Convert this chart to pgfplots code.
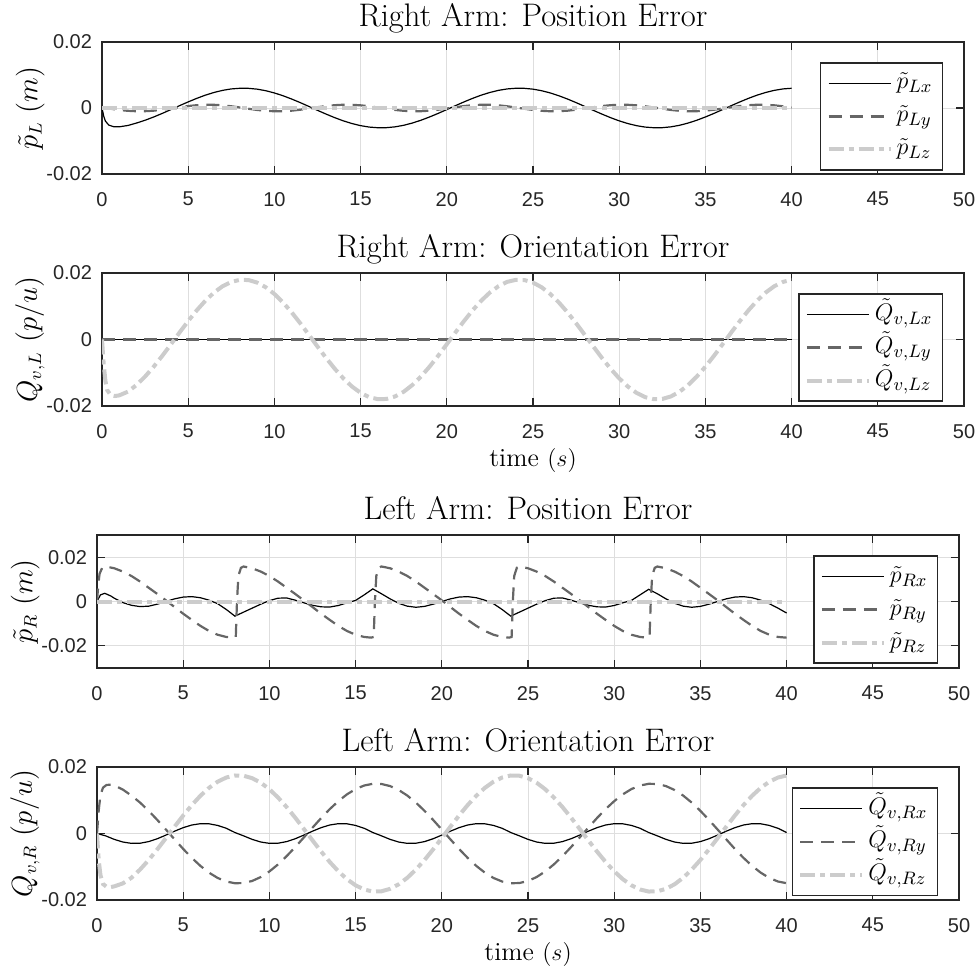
\documentclass[border=0pt]{standalone}
\usepackage{fontspec}
\usepackage{pgfplots}
\pgfplotsset{compat=1.18}
\newfontfamily\tickfam{Liberation Sans}
\newcommand\tickfont{\tickfam\fontsize{10}{12}\selectfont}
\newcommand\titlefont{\fontsize{16.3}{19}\selectfont}
\newcommand\ylabelfont{\fontsize{13.5}{16}\selectfont}
\newcommand\xlabelfont{\fontsize{13}{15}\selectfont}
\newcommand\legfont{\fontsize{13}{15}\selectfont}
\definecolor{axc}{RGB}{38,38,38}
\definecolor{gridc}{RGB}{222,222,222}
\definecolor{dgray}{RGB}{102,102,102}
\definecolor{lgray}{RGB}{204,204,204}
\tikzset{
 ls1/.style={color=black, line width=0.6pt, solid},
 ls2/.style={color=dgray, line width=1.1pt, dash pattern=on 6.5pt off 4pt},
 ls3/.style={color=lgray, line width=2pt, dash pattern=on 7.5pt off 2.5pt on 2.5pt off 2.5pt},
}
\pgfplotsset{myax/.style={
 scale only axis, width=431pt, height=66.5pt,
 xmin=0, xmax=50, xtick={0,5,...,50},
 ytick={-0.02,0,0.02}, yticklabels={-0.02,0,0.02}, scaled y ticks=false,
 grid=major, major grid style={color=gridc, line width=0.5pt},
 axis line style={color=axc, line width=0.6pt},
 tick style={color=axc, line width=0.6pt},
 tick align=inside, major tick length=4pt,
 ticklabel style={font=\tickfont, color=axc},
 /pgf/number format/assume math mode=true,
 xticklabel style={yshift=-5.5pt},
 yticklabel style={xshift=-1.5pt},
 every axis title shift=0pt,
 title style={font=\titlefont, at={(0.5,1)}, anchor=base, yshift=8pt},
 ylabel style={font=\ylabelfont},
 ylabel shift=-6pt,
 xlabel style={font=\xlabelfont, at={(axis description cs:0.5,0)}, anchor=base, yshift=-30.3pt},
 legend style={at={(0.9756,0.846)}, anchor=north east, draw=axc, line width=0.6pt,
   font=\legfont, fill=white, inner xsep=3pt, inner ysep=2pt, row sep=0pt,
   nodes={inner ysep=1pt, text height=10pt, text depth=4.5pt}},
 legend cell align=left,
 legend image code/.code={\draw[#1] (0pt,0pt) -- (31pt,0pt);},
}}
\begin{document}
\begin{tikzpicture}
\useasboundingbox (0pt,0pt) rectangle (489pt,-484.5pt);
% ---------------- Axis 1
\begin{axis}[myax, at={(51pt,-21pt)}, anchor=north west, height=66pt,
 ymin=-0.02, ymax=0.02, title={Right Arm: Position Error}, ylabel={$\tilde{p}_L\ (m)$}]
\addplot[ls1] coordinates {(0,0) (0.1,-0.0025) (0.2,-0.0040) (0.4,-0.0052) (0.7,-0.0057) (1,-0.0057) (1.5,-0.0053)
(2,-0.00456) (2.5,-0.00371) (3,-0.00272) (3.5,-0.00163) (4,-0.00047) (4.5,0.00071) (5,0.00185) (5.5,0.00293) (6,0.00390) (6.5,0.00471) (7,0.00535) (7.5,0.00578) (8,0.00598) (8.5,0.00596) (9,0.00571) (9.5,0.00524) (10,0.00456) (10.5,0.00371) (11,0.00272) (11.5,0.00163) (12,0.00047) (12.5,-0.00071) (13,-0.00185) (13.5,-0.00293) (14,-0.00390) (14.5,-0.00471) (15,-0.00535) (15.5,-0.00578) (16,-0.00598) (16.5,-0.00596) (17,-0.00571) (17.5,-0.00524) (18,-0.00456) (18.5,-0.00371) (19,-0.00272) (19.5,-0.00163) (20,-0.00047) (20.5,0.00071) (21,0.00185) (21.5,0.00293) (22,0.00390) (22.5,0.00471) (23,0.00535) (23.5,0.00578) (24,0.00598) (24.5,0.00596) (25,0.00571) (25.5,0.00524) (26,0.00456) (26.5,0.00371) (27,0.00272) (27.5,0.00163) (28,0.00047) (28.5,-0.00071) (29,-0.00185) (29.5,-0.00293) (30,-0.00390) (30.5,-0.00471) (31,-0.00535) (31.5,-0.00578) (32,-0.00598) (32.5,-0.00596) (33,-0.00571) (33.5,-0.00524) (34,-0.00456) (34.5,-0.00371) (35,-0.00272) (35.5,-0.00163) (36,-0.00047) (36.5,0.00071) (37,0.00185) (37.5,0.00293) (38,0.00390) (38.5,0.00471) (39,0.00535) (39.5,0.00578) (40,0.00598)};
\addlegendentry{$\tilde{p}_{Lx}$}
\addplot[ls2] coordinates {(0,0) (0.5,-0.00023) (1,-0.00059) (1.5,-0.00085) (2,-0.00099) (2.5,-0.00097) (3,-0.00081) (3.5,-0.00052) (4,-0.00016) (4.5,0.00023) (5,0.00059) (5.5,0.00085) (6,0.00099) (6.5,0.00097) (7,0.00081) (7.5,0.00052)
(8,0.00016) (8.5,-0.00023) (9,-0.00059) (9.5,-0.00085) (10,-0.00099) (10.5,-0.00097) (11,-0.00081) (11.5,-0.00052) (12,-0.00016) (12.5,0.00023) (13,0.00059) (13.5,0.00085) (14,0.00099) (14.5,0.00097) (15,0.00081) (15.5,0.00052)
(16,0.00016) (16.5,-0.00023) (17,-0.00059) (17.5,-0.00085) (18,-0.00099) (18.5,-0.00097) (19,-0.00081) (19.5,-0.00052) (20,-0.00016) (20.5,0.00023) (21,0.00059) (21.5,0.00085) (22,0.00099) (22.5,0.00097) (23,0.00081) (23.5,0.00052)
(24,0.00016) (24.5,-0.00023) (25,-0.00059) (25.5,-0.00085) (26,-0.00099) (26.5,-0.00097) (27,-0.00081) (27.5,-0.00052) (28,-0.00016) (28.5,0.00023) (29,0.00059) (29.5,0.00085) (30,0.00099) (30.5,0.00097) (31,0.00081) (31.5,0.00052)
(32,0.00016) (32.5,-0.00023) (33,-0.00059) (33.5,-0.00085) (34,-0.00099) (34.5,-0.00097) (35,-0.00081) (35.5,-0.00052) (36,-0.00016) (36.5,0.00023) (37,0.00059) (37.5,0.00085) (38,0.00099) (38.5,0.00097) (39,0.00081) (39.5,0.00052) (40,0.00016)};
\addlegendentry{$\tilde{p}_{Ly}$}
\addplot[ls3] coordinates {(0,0) (40,0)};
\addlegendentry{$\tilde{p}_{Lz}$}
\end{axis}
% ---------------- Axis 2
\begin{axis}[myax, at={(51pt,-136.5pt)}, anchor=north west,
 ymin=-0.02, ymax=0.02, title={Right Arm: Orientation Error}, ylabel={$Q_{v,L}\ (p/u)$}, xlabel={time $(s)$}]
\addplot[ls1] coordinates {(0,0) (40,0)};
\addlegendentry{$\tilde{Q}_{v,Lx}$}
\addplot[ls2] coordinates {(0,0) (40,0)};
\addlegendentry{$\tilde{Q}_{v,Ly}$}
\addplot[ls3] coordinates {(0,0) (0.1,-0.0075) (0.2,-0.0125) (0.3,-0.0152) (0.5,-0.0167) (0.75,-0.0170) (1,-0.0168) (1.5,-0.0157)
(2,-0.01369) (2.5,-0.01114) (3,-0.00817) (3.5,-0.00489) (4,-0.00141) (4.5,0.00212) (5,0.00556) (5.5,0.00879) (6,0.01169) (6.5,0.01414) (7,0.01604) (7.5,0.01733) (8,0.01794) (8.5,0.01788) (9,0.01712) (9.5,0.01571) (10,0.01369) (10.5,0.01114) (11,0.00817) (11.5,0.00489) (12,0.00141) (12.5,-0.00212) (13,-0.00556) (13.5,-0.00879) (14,-0.01169) (14.5,-0.01414) (15,-0.01604) (15.5,-0.01733) (16,-0.01794) (16.5,-0.01788) (17,-0.01712) (17.5,-0.01571) (18,-0.01369) (18.5,-0.01114) (19,-0.00817) (19.5,-0.00489) (20,-0.00141) (20.5,0.00212) (21,0.00556) (21.5,0.00879) (22,0.01169) (22.5,0.01414) (23,0.01604) (23.5,0.01733) (24,0.01794) (24.5,0.01788) (25,0.01712) (25.5,0.01571) (26,0.01369) (26.5,0.01114) (27,0.00817) (27.5,0.00489) (28,0.00141) (28.5,-0.00212) (29,-0.00556) (29.5,-0.00879) (30,-0.01169) (30.5,-0.01414) (31,-0.01604) (31.5,-0.01733) (32,-0.01794) (32.5,-0.01788) (33,-0.01712) (33.5,-0.01571) (34,-0.01369) (34.5,-0.01114) (35,-0.00817) (35.5,-0.00489) (36,-0.00141) (36.5,0.00212) (37,0.00556) (37.5,0.00879) (38,0.01169) (38.5,0.01414) (39,0.01604) (39.5,0.01733) (40,0.01794)};
\addlegendentry{$\tilde{Q}_{v,Lz}$}
\end{axis}
% ---------------- Axis 3
\begin{axis}[myax, at={(48.5pt,-267.5pt)}, anchor=north west,
 ymin=-0.03, ymax=0.03, title={Left Arm: Position Error}, ylabel={$\tilde{p}_R\ (m)$}]
\addplot[ls1] coordinates {(0,0) (0.2,0.0030) (0.45,0.0037) (0.8,0.0025) (1,0.0015) (1.5,-0.0005) (2,-0.0017) (2.5,-0.0023) (3,-0.0021) (3.5,-0.0012) (4,0) (4.5,0.0012) (5,0.0020) (5.5,0.0022) (6,0.0017) (6.5,0.0006) (7,-0.0010) (7.5,-0.0036) (8,-0.0066)
(8.5,-0.0048) (9,-0.0030) (9.5,-0.0012) (10,0.0004) (10.5,0.0015) (11,0.0016) (11.5,0.0006) (12,-0.0006) (12.5,-0.0017) (13,-0.0024) (13.5,-0.0025) (14,-0.0018) (14.5,-0.0006) (15,0.0005) (15.5,0.0030) (16,0.0057)
(16.5,0.0035) (17,0.0012) (17.5,-0.0008) (18,-0.0021) (18.5,-0.0026) (19,-0.0022) (19.5,-0.0012) (20,0) (20.5,0.0012) (21,0.0020) (21.5,0.0022) (22,0.0017) (22.5,0.0006) (23,-0.0010) (23.5,-0.0036) (24,-0.0066)
(24.5,-0.0048) (25,-0.0030) (25.5,-0.0012) (26,0.0004) (26.5,0.0015) (27,0.0016) (27.5,0.0006) (28,-0.0006) (28.5,-0.0017) (29,-0.0024) (29.5,-0.0025) (30,-0.0018) (30.5,-0.0006) (31,0.0005) (31.5,0.0030) (32,0.0055)
(32.5,0.0035) (33,0.0012) (33.5,-0.0008) (34,-0.0021) (34.5,-0.0026) (35,-0.0022) (35.5,-0.0012) (36,0) (36.5,0.0012) (37,0.0020) (37.5,0.0022) (38,0.0017) (38.5,0.0006) (39,-0.0010) (39.5,-0.0030) (40,-0.0052)};
\addlegendentry{$\tilde{p}_{Rx}$}
\addplot[ls2] coordinates {(0,0) (0.08,0.008) (0.15,0.0125) (0.3,0.0152) (0.5,0.0158) (1,0.0150) (1.5,0.0135) (2,0.0115) (2.5,0.0090) (3,0.0062) (3.5,0.0034) (4,0.0005) (4.5,-0.0025) (5,-0.0055) (5.5,-0.0083) (6,-0.0110) (6.5,-0.0133) (7,-0.0150) (7.5,-0.0160) (7.9,-0.0163)
(8.05,-0.0160) (8.12,0) (8.2,0.0115) (8.35,0.0152) (8.5,0.0158) (9,0.0150) (9.5,0.0135) (10,0.0115) (10.5,0.0090) (11,0.0062) (11.5,0.0034) (12,0.0005) (12.5,-0.0025) (13,-0.0055) (13.5,-0.0083) (14,-0.0110) (14.5,-0.0133) (15,-0.0150) (15.5,-0.0160) (15.9,-0.0163)
(16.05,-0.0160) (16.12,0) (16.2,0.0115) (16.35,0.0152) (16.5,0.0158) (17,0.0150) (17.5,0.0135) (18,0.0115) (18.5,0.0090) (19,0.0062) (19.5,0.0034) (20,0.0005) (20.5,-0.0025) (21,-0.0055) (21.5,-0.0083) (22,-0.0110) (22.5,-0.0133) (23,-0.0150) (23.5,-0.0160) (23.9,-0.0163)
(24.05,-0.0160) (24.12,0) (24.2,0.0115) (24.35,0.0152) (24.5,0.0158) (25,0.0150) (25.5,0.0135) (26,0.0115) (26.5,0.0090) (27,0.0062) (27.5,0.0034) (28,0.0005) (28.5,-0.0025) (29,-0.0055) (29.5,-0.0083) (30,-0.0110) (30.5,-0.0133) (31,-0.0150) (31.5,-0.0160) (31.9,-0.0163)
(32.05,-0.0160) (32.12,0) (32.2,0.0115) (32.35,0.0152) (32.5,0.0158) (33,0.0150) (33.5,0.0135) (34,0.0115) (34.5,0.0090) (35,0.0062) (35.5,0.0034) (36,0.0005) (36.5,-0.0025) (37,-0.0055) (37.5,-0.0083) (38,-0.0110) (38.5,-0.0133) (39,-0.0150) (39.5,-0.0160) (40,-0.0163)};
\addlegendentry{$\tilde{p}_{Ry}$}
\addplot[ls3] coordinates {(0,0) (40,0)};
\addlegendentry{$\tilde{p}_{Rz}$}
\end{axis}
% ---------------- Axis 4
\begin{axis}[myax, at={(48.5pt,-383.5pt)}, anchor=north west,
 ymin=-0.02, ymax=0.02, title={Left Arm: Orientation Error}, ylabel={$Q_{v,R}\ (p/u)$}, xlabel={time $(s)$}]
\addplot[ls1] coordinates {(0,0) (0.5,-0.00070) (1,-0.00176) (1.5,-0.00256) (2,-0.00296) (2.5,-0.00292) (3,-0.00243) (3.5,-0.00157) (4,-0.00047) (4.5,0.00070) (5,0.00176) (5.5,0.00256) (6,0.00296) (6.5,0.00292) (7,0.00243) (7.5,0.00157)
(8,0.00030) (8.5,-0.00070) (9,-0.00176) (9.5,-0.00256) (10,-0.00296) (10.5,-0.00292) (11,-0.00243) (11.5,-0.00157) (12,-0.00047) (12.5,0.00070) (13,0.00176) (13.5,0.00256) (14,0.00296) (14.5,0.00292) (15,0.00243) (15.5,0.00157)
(16,0.00030) (16.5,-0.00070) (17,-0.00176) (17.5,-0.00256) (18,-0.00296) (18.5,-0.00292) (19,-0.00243) (19.5,-0.00157) (20,-0.00047) (20.5,0.00070) (21,0.00176) (21.5,0.00256) (22,0.00296) (22.5,0.00292) (23,0.00243) (23.5,0.00157)
(24,0.00030) (24.5,-0.00070) (25,-0.00176) (25.5,-0.00256) (26,-0.00296) (26.5,-0.00292) (27,-0.00243) (27.5,-0.00157) (28,-0.00047) (28.5,0.00070) (29,0.00176) (29.5,0.00256) (30,0.00296) (30.5,0.00292) (31,0.00243) (31.5,0.00157)
(32,0.00030) (32.5,-0.00070) (33,-0.00176) (33.5,-0.00256) (34,-0.00296) (34.5,-0.00292) (35,-0.00243) (35.5,-0.00157) (36,-0.00047) (36.5,0.00070) (37,0.00176) (37.5,0.00256) (38,0.00296) (38.5,0.00292) (39,0.00243) (39.5,0.00157) (40,0.00030)};
\addlegendentry{$\tilde{Q}_{v,Rx}$}
\addplot[ls2] coordinates {(0,0) (0.1,0.007) (0.2,0.0115) (0.35,0.0138) (0.55,0.0146) (0.8,0.0147) (1,0.0145) (1.5,0.0132)
(2,0.01141) (2.5,0.00929) (3,0.00681) (3.5,0.00407) (4,0.00118) (4.5,-0.00176) (5,-0.00464) (5.5,-0.00733) (6,-0.00974) (6.5,-0.01178) (7,-0.01337) (7.5,-0.01444) (8,-0.01495) (8.5,-0.01490) (9,-0.01427) (9.5,-0.01309) (10,-0.01141) (10.5,-0.00929) (11,-0.00681) (11.5,-0.00407) (12,-0.00118) (12.5,0.00176) (13,0.00464) (13.5,0.00733) (14,0.00974) (14.5,0.01178) (15,0.01337) (15.5,0.01444) (16,0.01495) (16.5,0.01490) (17,0.01427) (17.5,0.01309) (18,0.01141) (18.5,0.00929) (19,0.00681) (19.5,0.00407) (20,0.00118) (20.5,-0.00176) (21,-0.00464) (21.5,-0.00733) (22,-0.00974) (22.5,-0.01178) (23,-0.01337) (23.5,-0.01444) (24,-0.01495) (24.5,-0.01490) (25,-0.01427) (25.5,-0.01309) (26,-0.01141) (26.5,-0.00929) (27,-0.00681) (27.5,-0.00407) (28,-0.00118) (28.5,0.00176) (29,0.00464) (29.5,0.00733) (30,0.00974) (30.5,0.01178) (31,0.01337) (31.5,0.01444) (32,0.01495) (32.5,0.01490) (33,0.01427) (33.5,0.01309) (34,0.01141) (34.5,0.00929) (35,0.00681) (35.5,0.00407) (36,0.00118) (36.5,-0.00176) (37,-0.00464) (37.5,-0.00733) (38,-0.00974) (38.5,-0.01178) (39,-0.01337) (39.5,-0.01444) (40,-0.01495)};
\addlegendentry{$\tilde{Q}_{v,Ry}$}
\addplot[ls3] coordinates {(0,0) (0.1,-0.008) (0.2,-0.0125) (0.35,-0.0152) (0.55,-0.0160) (0.8,-0.0161) (1,-0.0159) (1.5,-0.0150)
(2,-0.01331) (2.5,-0.01083) (3,-0.00795) (3.5,-0.00475) (4,-0.00137) (4.5,0.00206) (5,0.00541) (5.5,0.00855) (6,0.01136) (6.5,0.01374) (7,0.01559) (7.5,0.01684) (8,0.01745) (8.5,0.01738) (9,0.01664) (9.5,0.01527) (10,0.01331) (10.5,0.01083) (11,0.00795) (11.5,0.00475) (12,0.00137) (12.5,-0.00206) (13,-0.00541) (13.5,-0.00855) (14,-0.01136) (14.5,-0.01374) (15,-0.01559) (15.5,-0.01684) (16,-0.01745) (16.5,-0.01738) (17,-0.01664) (17.5,-0.01527) (18,-0.01331) (18.5,-0.01083) (19,-0.00795) (19.5,-0.00475) (20,-0.00137) (20.5,0.00206) (21,0.00541) (21.5,0.00855) (22,0.01136) (22.5,0.01374) (23,0.01559) (23.5,0.01684) (24,0.01745) (24.5,0.01738) (25,0.01664) (25.5,0.01527) (26,0.01331) (26.5,0.01083) (27,0.00795) (27.5,0.00475) (28,0.00137) (28.5,-0.00206) (29,-0.00541) (29.5,-0.00855) (30,-0.01136) (30.5,-0.01374) (31,-0.01559) (31.5,-0.01684) (32,-0.01745) (32.5,-0.01738) (33,-0.01664) (33.5,-0.01527) (34,-0.01331) (34.5,-0.01083) (35,-0.00795) (35.5,-0.00475) (36,-0.00137) (36.5,0.00206) (37,0.00541) (37.5,0.00855) (38,0.01136) (38.5,0.01374) (39,0.01559) (39.5,0.01684) (40,0.01745)};
\addlegendentry{$\tilde{Q}_{v,Rz}$}
\end{axis}
\end{tikzpicture}
\end{document}
